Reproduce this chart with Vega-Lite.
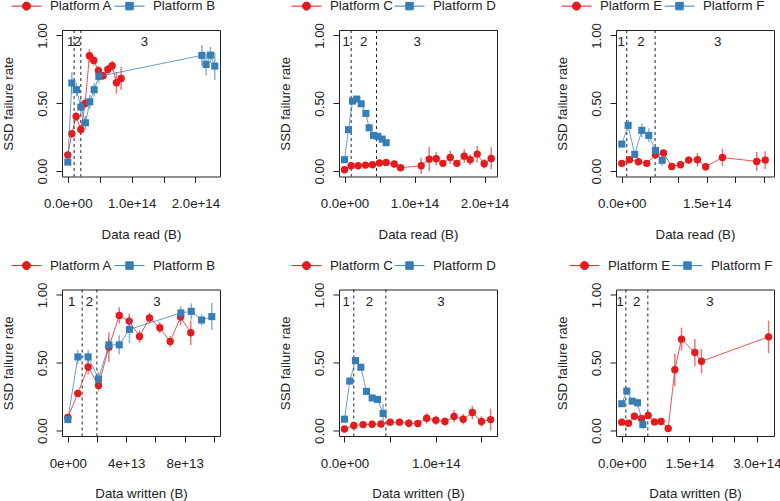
{
"$schema": "https://vega.github.io/schema/vega-lite/v6.json",
"background": "white",
"padding": {"left": 1, "top": -10, "right": 5, "bottom": 5},
"columns": 3,
"spacing": {"row": 112.5, "column": 119},
"bounds": "flush",
"resolve": {"scale": {"color": "independent", "stroke": "independent", "shape": "independent", "x": "independent", "y": "independent"}, "legend": {"color": "independent", "stroke": "independent", "shape": "independent"}},
"config": {
  "font": "Liberation Sans",
  "view": {"stroke": "#222", "strokeWidth": 1},
  "axis": {"grid": false, "domain": false, "tickColor": "#222", "tickSize": 6, "labelFontSize": 13.3, "titleFontSize": 13.3, "labelColor": "#222", "titleColor": "#222", "titleFontWeight": "normal", "labelFont": "Liberation Sans", "titleFont": "Liberation Sans", "labelOverlap": false, "labelFlush": false, "labelBound": false},
  "axisX": {"labelPadding": 14, "titlePadding": 17.5},
  "axisY": {"labelAngle": -90, "labelAlign": "center", "labelBaseline": "bottom", "labelPadding": 7, "titlePadding": 19.5},
  "legend": {"orient": "none", "legendY": -39.5, "direction": "horizontal", "title": null, "symbolSize": 900, "symbolOpacity": 1, "symbolStrokeWidth": 1, "labelFontSize": 13.3, "labelFont": "Liberation Sans", "labelColor": "#222", "labelOffset": 8, "columnPadding": -1, "padding": 0}
},
"datasets": {
"cuts": [
{"p":1,"x":0.099e14},{"p":1,"x":0.204e14},
{"p":2,"x":0.095e14},{"p":2,"x":0.457e14},
{"p":3,"x":0.088e14},{"p":3,"x":0.588e14},
{"p":4,"x":0.98e13},{"p":4,"x":1.99e13},
{"p":5,"x":0.102e14},{"p":5,"x":0.453e14},
{"p":6,"x":0.089e14},{"p":6,"x":0.578e14}
],
"labs": [
{"p":1,"x":0.045e14,"t":"1"},{"p":1,"x":0.146e14,"t":"2"},{"p":1,"x":1.2e14,"t":"3"},
{"p":2,"x":0.024e14,"t":"1"},{"p":2,"x":0.276e14,"t":"2"},{"p":2,"x":1.04e14,"t":"3"},
{"p":3,"x":-0.01e14,"t":"1"},{"p":3,"x":0.34e14,"t":"2"},{"p":3,"x":1.69e14,"t":"3"},
{"p":4,"x":0.27e13,"t":"1"},{"p":4,"x":1.48e13,"t":"2"},{"p":4,"x":6.1e13,"t":"3"},
{"p":5,"x":0.018e14,"t":"1"},{"p":5,"x":0.274e14,"t":"2"},{"p":5,"x":1.055e14,"t":"3"},
{"p":6,"x":-0.037e14,"t":"1"},{"p":6,"x":0.333e14,"t":"2"},{"p":6,"x":1.956e14,"t":"3"}
],
"pts": [
{"p":1,"k":0,"g":"Platform A","x":0,"y":0.118,"e":0.012},
{"p":1,"k":0,"g":"Platform A","x":0.063e14,"y":0.275,"e":0.025},
{"p":1,"k":0,"g":"Platform A","x":0.13e14,"y":0.403,"e":0.035},
{"p":1,"k":0,"g":"Platform A","x":0.204e14,"y":0.307,"e":0.035},
{"p":1,"k":0,"g":"Platform A","x":0.272e14,"y":0.499,"e":0.035},
{"p":1,"k":0,"g":"Platform A","x":0.339e14,"y":0.850,"e":0.05},
{"p":1,"k":0,"g":"Platform A","x":0.407e14,"y":0.816,"e":0.037},
{"p":1,"k":0,"g":"Platform A","x":0.48e14,"y":0.740,"e":0.035},
{"p":1,"k":0,"g":"Platform A","x":0.553e14,"y":0.703,"e":0.03},
{"p":1,"k":0,"g":"Platform A","x":0.627e14,"y":0.749,"e":0.035},
{"p":1,"k":0,"g":"Platform A","x":0.695e14,"y":0.776,"e":0.037},
{"p":1,"k":0,"g":"Platform A","x":0.762e14,"y":0.651,"e":0.08},
{"p":1,"k":0,"g":"Platform A","x":0.836e14,"y":0.683,"e":0.085},
{"p":1,"k":1,"g":"Platform B","x":0,"y":0.066,"e":0.012},
{"p":1,"k":1,"g":"Platform B","x":0.063e14,"y":0.649,"e":0.08},
{"p":1,"k":1,"g":"Platform B","x":0.136e14,"y":0.600,"e":0.05},
{"p":1,"k":1,"g":"Platform B","x":0.204e14,"y":0.472,"e":0.06},
{"p":1,"k":1,"g":"Platform B","x":0.277e14,"y":0.356,"e":0.05},
{"p":1,"k":1,"g":"Platform B","x":0.345e14,"y":0.511,"e":0.05},
{"p":1,"k":1,"g":"Platform B","x":0.413e14,"y":0.600,"e":0.05},
{"p":1,"k":1,"g":"Platform B","x":0.486e14,"y":0.698,"e":0.05},
{"p":1,"k":1,"g":"Platform B","x":2.10e14,"y":0.853,"e":0.075},
{"p":1,"k":1,"g":"Platform B","x":2.167e14,"y":0.786,"e":0.08},
{"p":1,"k":1,"g":"Platform B","x":2.235e14,"y":0.855,"e":0.06},
{"p":1,"k":1,"g":"Platform B","x":2.303e14,"y":0.774,"e":0.1},
{"p":2,"k":0,"g":"Platform C","x":0,"y":0.010,"e":0.008},
{"p":2,"k":0,"g":"Platform C","x":0.095e14,"y":0.039,"e":0.01},
{"p":2,"k":0,"g":"Platform C","x":0.195e14,"y":0.039,"e":0.01},
{"p":2,"k":0,"g":"Platform C","x":0.30e14,"y":0.044,"e":0.01},
{"p":2,"k":0,"g":"Platform C","x":0.40e14,"y":0.047,"e":0.01},
{"p":2,"k":0,"g":"Platform C","x":0.50e14,"y":0.059,"e":0.012},
{"p":2,"k":0,"g":"Platform C","x":0.595e14,"y":0.064,"e":0.012},
{"p":2,"k":0,"g":"Platform C","x":0.71e14,"y":0.052,"e":0.01},
{"p":2,"k":0,"g":"Platform C","x":0.80e14,"y":0.025,"e":0.01},
{"p":2,"k":0,"g":"Platform C","x":1.095e14,"y":0.039,"e":0.06},
{"p":2,"k":0,"g":"Platform C","x":1.21e14,"y":0.088,"e":0.09},
{"p":2,"k":0,"g":"Platform C","x":1.31e14,"y":0.091,"e":0.05},
{"p":2,"k":0,"g":"Platform C","x":1.405e14,"y":0.057,"e":0.025},
{"p":2,"k":0,"g":"Platform C","x":1.51e14,"y":0.10,"e":0.05},
{"p":2,"k":0,"g":"Platform C","x":1.605e14,"y":0.057,"e":0.025},
{"p":2,"k":0,"g":"Platform C","x":1.71e14,"y":0.11,"e":0.05},
{"p":2,"k":0,"g":"Platform C","x":1.795e14,"y":0.084,"e":0.04},
{"p":2,"k":0,"g":"Platform C","x":1.895e14,"y":0.125,"e":0.06},
{"p":2,"k":0,"g":"Platform C","x":1.995e14,"y":0.054,"e":0.035},
{"p":2,"k":0,"g":"Platform C","x":2.095e14,"y":0.093,"e":0.08},
{"p":2,"k":1,"g":"Platform D","x":0,"y":0.084,"e":0.015},
{"p":2,"k":1,"g":"Platform D","x":0.057e14,"y":0.305,"e":0.02},
{"p":2,"k":1,"g":"Platform D","x":0.114e14,"y":0.516,"e":0.02},
{"p":2,"k":1,"g":"Platform D","x":0.176e14,"y":0.531,"e":0.02},
{"p":2,"k":1,"g":"Platform D","x":0.238e14,"y":0.496,"e":0.02},
{"p":2,"k":1,"g":"Platform D","x":0.305e14,"y":0.425,"e":0.025},
{"p":2,"k":1,"g":"Platform D","x":0.352e14,"y":0.319,"e":0.025},
{"p":2,"k":1,"g":"Platform D","x":0.414e14,"y":0.263,"e":0.02},
{"p":2,"k":1,"g":"Platform D","x":0.476e14,"y":0.256,"e":0.02},
{"p":2,"k":1,"g":"Platform D","x":0.538e14,"y":0.236,"e":0.02},
{"p":2,"k":1,"g":"Platform D","x":0.595e14,"y":0.209,"e":0.02},
{"p":3,"k":0,"g":"Platform E","x":0,"y":0.057,"e":0.012},
{"p":3,"k":0,"g":"Platform E","x":0.135e14,"y":0.084,"e":0.015},
{"p":3,"k":0,"g":"Platform E","x":0.294e14,"y":0.069,"e":0.012},
{"p":3,"k":0,"g":"Platform E","x":0.44e14,"y":0.057,"e":0.012},
{"p":3,"k":0,"g":"Platform E","x":0.594e14,"y":0.12,"e":0.02},
{"p":3,"k":0,"g":"Platform E","x":0.735e14,"y":0.133,"e":0.02},
{"p":3,"k":0,"g":"Platform E","x":0.882e14,"y":0.034,"e":0.012},
{"p":3,"k":0,"g":"Platform E","x":1.035e14,"y":0.047,"e":0.012},
{"p":3,"k":0,"g":"Platform E","x":1.18e14,"y":0.081,"e":0.03},
{"p":3,"k":0,"g":"Platform E","x":1.335e14,"y":0.084,"e":0.05},
{"p":3,"k":0,"g":"Platform E","x":1.48e14,"y":0.032,"e":0.03},
{"p":3,"k":0,"g":"Platform E","x":1.776e14,"y":0.10,"e":0.065},
{"p":3,"k":0,"g":"Platform E","x":2.38e14,"y":0.071,"e":0.07},
{"p":3,"k":0,"g":"Platform E","x":2.53e14,"y":0.081,"e":0.065},
{"p":3,"k":1,"g":"Platform F","x":0,"y":0.199,"e":0.02},
{"p":3,"k":1,"g":"Platform F","x":0.112e14,"y":0.337,"e":0.04},
{"p":3,"k":1,"g":"Platform F","x":0.229e14,"y":0.123,"e":0.025},
{"p":3,"k":1,"g":"Platform F","x":0.353e14,"y":0.30,"e":0.05},
{"p":3,"k":1,"g":"Platform F","x":0.476e14,"y":0.263,"e":0.05},
{"p":3,"k":1,"g":"Platform F","x":0.594e14,"y":0.152,"e":0.03},
{"p":3,"k":1,"g":"Platform F","x":0.712e14,"y":0.079,"e":0.04},
{"p":4,"k":0,"g":"Platform A","x":0,"y":0.096,"e":0.012},
{"p":4,"k":0,"g":"Platform A","x":0.685e13,"y":0.274,"e":0.015},
{"p":4,"k":0,"g":"Platform A","x":1.39e13,"y":0.469,"e":0.055},
{"p":4,"k":0,"g":"Platform A","x":2.10e13,"y":0.333,"e":0.04},
{"p":4,"k":0,"g":"Platform A","x":2.81e13,"y":0.615,"e":0.11},
{"p":4,"k":0,"g":"Platform A","x":3.52e13,"y":0.849,"e":0.06},
{"p":4,"k":0,"g":"Platform A","x":4.20e13,"y":0.807,"e":0.055},
{"p":4,"k":0,"g":"Platform A","x":4.91e13,"y":0.694,"e":0.045},
{"p":4,"k":0,"g":"Platform A","x":5.59e13,"y":0.83,"e":0.04},
{"p":4,"k":0,"g":"Platform A","x":6.30e13,"y":0.758,"e":0.04},
{"p":4,"k":0,"g":"Platform A","x":7.01e13,"y":0.657,"e":0.04},
{"p":4,"k":0,"g":"Platform A","x":7.72e13,"y":0.837,"e":0.06},
{"p":4,"k":0,"g":"Platform A","x":8.42e13,"y":0.721,"e":0.09},
{"p":4,"k":1,"g":"Platform B","x":0,"y":0.081,"e":0.012},
{"p":4,"k":1,"g":"Platform B","x":0.685e13,"y":0.543,"e":0.05},
{"p":4,"k":1,"g":"Platform B","x":1.39e13,"y":0.543,"e":0.05},
{"p":4,"k":1,"g":"Platform B","x":2.10e13,"y":0.380,"e":0.05},
{"p":4,"k":1,"g":"Platform B","x":2.81e13,"y":0.632,"e":0.05},
{"p":4,"k":1,"g":"Platform B","x":3.52e13,"y":0.632,"e":0.07},
{"p":4,"k":1,"g":"Platform B","x":4.22e13,"y":0.746,"e":0.1},
{"p":4,"k":1,"g":"Platform B","x":7.74e13,"y":0.867,"e":0.05},
{"p":4,"k":1,"g":"Platform B","x":8.45e13,"y":0.879,"e":0.06},
{"p":4,"k":1,"g":"Platform B","x":9.16e13,"y":0.815,"e":0.04},
{"p":4,"k":1,"g":"Platform B","x":9.86e13,"y":0.84,"e":0.1},
{"p":5,"k":0,"g":"Platform C","x":0,"y":0.012,"e":0.008},
{"p":5,"k":0,"g":"Platform C","x":0.102e14,"y":0.037,"e":0.01},
{"p":5,"k":0,"g":"Platform C","x":0.204e14,"y":0.044,"e":0.01},
{"p":5,"k":0,"g":"Platform C","x":0.303e14,"y":0.047,"e":0.01},
{"p":5,"k":0,"g":"Platform C","x":0.40e14,"y":0.049,"e":0.01},
{"p":5,"k":0,"g":"Platform C","x":0.50e14,"y":0.062,"e":0.012},
{"p":5,"k":0,"g":"Platform C","x":0.602e14,"y":0.062,"e":0.015},
{"p":5,"k":0,"g":"Platform C","x":0.704e14,"y":0.054,"e":0.03},
{"p":5,"k":0,"g":"Platform C","x":0.803e14,"y":0.052,"e":0.025},
{"p":5,"k":0,"g":"Platform C","x":0.90e14,"y":0.091,"e":0.04},
{"p":5,"k":0,"g":"Platform C","x":1.0e14,"y":0.077,"e":0.035},
{"p":5,"k":0,"g":"Platform C","x":1.10e14,"y":0.067,"e":0.03},
{"p":5,"k":0,"g":"Platform C","x":1.20e14,"y":0.104,"e":0.045},
{"p":5,"k":0,"g":"Platform C","x":1.30e14,"y":0.084,"e":0.04},
{"p":5,"k":0,"g":"Platform C","x":1.40e14,"y":0.133,"e":0.05},
{"p":5,"k":0,"g":"Platform C","x":1.50e14,"y":0.067,"e":0.04},
{"p":5,"k":0,"g":"Platform C","x":1.60e14,"y":0.081,"e":0.08},
{"p":5,"k":1,"g":"Platform D","x":0,"y":0.084,"e":0.015},
{"p":5,"k":1,"g":"Platform D","x":0.058e14,"y":0.365,"e":0.02},
{"p":5,"k":1,"g":"Platform D","x":0.12e14,"y":0.516,"e":0.02},
{"p":5,"k":1,"g":"Platform D","x":0.179e14,"y":0.467,"e":0.02},
{"p":5,"k":1,"g":"Platform D","x":0.241e14,"y":0.289,"e":0.02},
{"p":5,"k":1,"g":"Platform D","x":0.303e14,"y":0.24,"e":0.02},
{"p":5,"k":1,"g":"Platform D","x":0.361e14,"y":0.23,"e":0.02},
{"p":5,"k":1,"g":"Platform D","x":0.423e14,"y":0.126,"e":0.07},
{"p":6,"k":0,"g":"Platform E","x":0,"y":0.062,"e":0.015},
{"p":6,"k":0,"g":"Platform E","x":0.148e14,"y":0.054,"e":0.015},
{"p":6,"k":0,"g":"Platform E","x":0.28e14,"y":0.106,"e":0.015},
{"p":6,"k":0,"g":"Platform E","x":0.437e14,"y":0.089,"e":0.015},
{"p":6,"k":0,"g":"Platform E","x":0.585e14,"y":0.111,"e":0.02},
{"p":6,"k":0,"g":"Platform E","x":0.726e14,"y":0.064,"e":0.015},
{"p":6,"k":0,"g":"Platform E","x":0.874e14,"y":0.067,"e":0.015},
{"p":6,"k":0,"g":"Platform E","x":1.03e14,"y":0.015,"e":0.01},
{"p":6,"k":0,"g":"Platform E","x":1.178e14,"y":0.449,"e":0.12},
{"p":6,"k":0,"g":"Platform E","x":1.326e14,"y":0.674,"e":0.085},
{"p":6,"k":0,"g":"Platform E","x":1.622e14,"y":0.575,"e":0.1},
{"p":6,"k":0,"g":"Platform E","x":1.77e14,"y":0.511,"e":0.09},
{"p":6,"k":0,"g":"Platform E","x":3.26e14,"y":0.691,"e":0.12},
{"p":6,"k":1,"g":"Platform F","x":0,"y":0.198,"e":0.02},
{"p":6,"k":1,"g":"Platform F","x":0.111e14,"y":0.291,"e":0.02},
{"p":6,"k":1,"g":"Platform F","x":0.23e14,"y":0.217,"e":0.02},
{"p":6,"k":1,"g":"Platform F","x":0.348e14,"y":0.205,"e":0.03},
{"p":6,"k":1,"g":"Platform F","x":0.467e14,"y":0.044,"e":0.03}
]
},
"concat": [
{"width":158,"height":146.5,
 "encoding":{"x":{"field":"x","type":"quantitative","title":"Data read (B)","scale":{"domain":[-0.091e14,2.385e14],"nice":false,"zero":false},"axis":{"values":[0,0.5e14,1e14,1.5e14,2e14],"labelOverlap":false,"labelExpr":"datum.value==0?'0.0e+00':datum.value==1e14?'1.0e+14':datum.value==2e14?'2.0e+14':''"}}},
 "layer":[
 {"data":{"name":"cuts"},"transform":[{"filter":"datum.p==1"}],"mark":{"type":"rule","strokeDash":[3,3],"color":"#222","strokeWidth":1},"encoding":{}},
 {"data":{"name":"labs"},"transform":[{"filter":"datum.p==1"}],"mark":{"type":"text","fontSize":13.3,"color":"#222","font":"Liberation Sans"},"encoding":{"y":{"datum":0.95,"type":"quantitative"},"text":{"field":"t"}}},
 {"data":{"name":"pts"},"transform":[{"filter":"datum.p==1 && datum.k==0"}],
  "encoding":{"y":{"field":"y","type":"quantitative","title":"SSD failure rate","scale":{"domain":[-0.04,1.04],"nice":false,"zero":false},"axis":{"values":[0,0.25,0.5,0.75,1],"labelOverlap":false,"labelExpr":"datum.value==0?'0.00':datum.value==0.5?'0.50':datum.value==1?'1.00':''"}},
   "color":{"field":"g","type":"nominal","scale":{"domain":["Platform A","Platform B"],"range":["#e41a1c","#377eb8"]},"legend":{"legendX":-51}}},
  "layer":[
   {"mark":{"type":"line","strokeWidth":1,"opacity":0.75}},
   {"mark":{"type":"errorbar","thickness":1.5,"opacity":0.6},"encoding":{"yError":{"field":"e"}}},
   {"mark":{"type":"point","filled":true,"shape":"circle","size":55,"opacity":1}}
  ]},
 {"data":{"name":"pts"},"transform":[{"filter":"datum.p==1 && datum.k==1"}],
  "encoding":{"y":{"field":"y","type":"quantitative","title":"SSD failure rate","scale":{"domain":[-0.04,1.04],"nice":false,"zero":false}},
   "color":{"field":"g","type":"nominal","scale":{"domain":["Platform A","Platform B"],"range":["#e41a1c","#377eb8"]},"legend":{"legendX":-51}}},
  "layer":[
   {"mark":{"type":"line","strokeWidth":1,"opacity":0.75}},
   {"mark":{"type":"errorbar","thickness":1.5,"opacity":0.6},"encoding":{"yError":{"field":"e"}}},
   {"mark":{"type":"point","filled":true,"shape":"square","size":50,"opacity":1}}
  ]},
 {"data":{"name":"pts"},"transform":[{"filter":"datum.p==1"}],"mark":{"type":"point","filled":true,"opacity":0},
  "encoding":{"y":{"field":"y","type":"quantitative","title":"SSD failure rate","scale":{"domain":[-0.04,1.04],"nice":false,"zero":false}},
   "color":{"field":"g","type":"nominal","scale":{"domain":["Platform A","Platform B"],"range":["#e41a1c","#377eb8"]},"legend":{"legendX":-51}},
   "stroke":{"field":"g","type":"nominal","scale":{"domain":["Platform A","Platform B"],"range":["#e41a1c","#377eb8"]},"legend":{"legendX":-51}},
   "shape":{"field":"g","type":"nominal","scale":{"domain":["Platform A","Platform B"],"range":["M-1,0L1,0M0.27,0A0.27,0.27,0,1,1,-0.27,0A0.27,0.27,0,1,1,0.27,0Z","M-1,0L1,0M-0.25,-0.25L0.25,-0.25L0.25,0.25L-0.25,0.25Z"]},"legend":{"legendX":-51}}}}
]},
{"width":158,"height":146.5,
 "encoding":{"x":{"field":"x","type":"quantitative","title":"Data read (B)","scale":{"domain":[-0.0786e14,2.178e14],"nice":false,"zero":false},"axis":{"values":[0,0.5e14,1e14,1.5e14,2e14],"labelOverlap":false,"labelExpr":"datum.value==0?'0.0e+00':datum.value==1e14?'1.0e+14':datum.value==2e14?'2.0e+14':''"}}},
 "layer":[
 {"data":{"name":"cuts"},"transform":[{"filter":"datum.p==2"}],"mark":{"type":"rule","strokeDash":[3,3],"color":"#222","strokeWidth":1},"encoding":{}},
 {"data":{"name":"labs"},"transform":[{"filter":"datum.p==2"}],"mark":{"type":"text","fontSize":13.3,"color":"#222","font":"Liberation Sans"},"encoding":{"y":{"datum":0.95,"type":"quantitative"},"text":{"field":"t"}}},
 {"data":{"name":"pts"},"transform":[{"filter":"datum.p==2 && datum.k==0"}],
  "encoding":{"y":{"field":"y","type":"quantitative","title":"SSD failure rate","scale":{"domain":[-0.04,1.04],"nice":false,"zero":false},"axis":{"values":[0,0.25,0.5,0.75,1],"labelOverlap":false,"labelExpr":"datum.value==0?'0.00':datum.value==0.5?'0.50':datum.value==1?'1.00':''"}},
   "color":{"field":"g","type":"nominal","scale":{"domain":["Platform C","Platform D"],"range":["#e41a1c","#377eb8"]},"legend":{"legendX":-48}}},
  "layer":[
   {"mark":{"type":"line","strokeWidth":1,"opacity":0.75}},
   {"mark":{"type":"errorbar","thickness":1.5,"opacity":0.6},"encoding":{"yError":{"field":"e"}}},
   {"mark":{"type":"point","filled":true,"shape":"circle","size":55,"opacity":1}}
  ]},
 {"data":{"name":"pts"},"transform":[{"filter":"datum.p==2 && datum.k==1"}],
  "encoding":{"y":{"field":"y","type":"quantitative","title":"SSD failure rate","scale":{"domain":[-0.04,1.04],"nice":false,"zero":false}},
   "color":{"field":"g","type":"nominal","scale":{"domain":["Platform C","Platform D"],"range":["#e41a1c","#377eb8"]},"legend":{"legendX":-48}}},
  "layer":[
   {"mark":{"type":"line","strokeWidth":1,"opacity":0.75}},
   {"mark":{"type":"errorbar","thickness":1.5,"opacity":0.6},"encoding":{"yError":{"field":"e"}}},
   {"mark":{"type":"point","filled":true,"shape":"square","size":50,"opacity":1}}
  ]},
 {"data":{"name":"pts"},"transform":[{"filter":"datum.p==2"}],"mark":{"type":"point","filled":true,"opacity":0},
  "encoding":{"y":{"field":"y","type":"quantitative","title":"SSD failure rate","scale":{"domain":[-0.04,1.04],"nice":false,"zero":false}},
   "color":{"field":"g","type":"nominal","scale":{"domain":["Platform C","Platform D"],"range":["#e41a1c","#377eb8"]},"legend":{"legendX":-48}},
   "stroke":{"field":"g","type":"nominal","scale":{"domain":["Platform C","Platform D"],"range":["#e41a1c","#377eb8"]},"legend":{"legendX":-48}},
   "shape":{"field":"g","type":"nominal","scale":{"domain":["Platform C","Platform D"],"range":["M-1,0L1,0M0.27,0A0.27,0.27,0,1,1,-0.27,0A0.27,0.27,0,1,1,0.27,0Z","M-1,0L1,0M-0.25,-0.25L0.25,-0.25L0.25,0.25L-0.25,0.25Z"]},"legend":{"legendX":-48}}}}
]},
{"width":158,"height":146.5,
 "encoding":{"x":{"field":"x","type":"quantitative","title":"Data read (B)","scale":{"domain":[-0.102e14,2.685e14],"nice":false,"zero":false},"axis":{"values":[0,0.5e14,1e14,1.5e14,2e14,2.5e14],"labelOverlap":false,"labelExpr":"datum.value==0?'0.0e+00':datum.value==1.5e14?'1.5e+14':''"}}},
 "layer":[
 {"data":{"name":"cuts"},"transform":[{"filter":"datum.p==3"}],"mark":{"type":"rule","strokeDash":[3,3],"color":"#222","strokeWidth":1},"encoding":{}},
 {"data":{"name":"labs"},"transform":[{"filter":"datum.p==3"}],"mark":{"type":"text","fontSize":13.3,"color":"#222","font":"Liberation Sans"},"encoding":{"y":{"datum":0.95,"type":"quantitative"},"text":{"field":"t"}}},
 {"data":{"name":"pts"},"transform":[{"filter":"datum.p==3 && datum.k==0"}],
  "encoding":{"y":{"field":"y","type":"quantitative","title":"SSD failure rate","scale":{"domain":[-0.04,1.04],"nice":false,"zero":false},"axis":{"values":[0,0.25,0.5,0.75,1],"labelOverlap":false,"labelExpr":"datum.value==0?'0.00':datum.value==0.5?'0.50':datum.value==1?'1.00':''"}},
   "color":{"field":"g","type":"nominal","scale":{"domain":["Platform E","Platform F"],"range":["#e41a1c","#377eb8"]},"legend":{"legendX":-55}}},
  "layer":[
   {"mark":{"type":"line","strokeWidth":1,"opacity":0.75}},
   {"mark":{"type":"errorbar","thickness":1.5,"opacity":0.6},"encoding":{"yError":{"field":"e"}}},
   {"mark":{"type":"point","filled":true,"shape":"circle","size":55,"opacity":1}}
  ]},
 {"data":{"name":"pts"},"transform":[{"filter":"datum.p==3 && datum.k==1"}],
  "encoding":{"y":{"field":"y","type":"quantitative","title":"SSD failure rate","scale":{"domain":[-0.04,1.04],"nice":false,"zero":false}},
   "color":{"field":"g","type":"nominal","scale":{"domain":["Platform E","Platform F"],"range":["#e41a1c","#377eb8"]},"legend":{"legendX":-55}}},
  "layer":[
   {"mark":{"type":"line","strokeWidth":1,"opacity":0.75}},
   {"mark":{"type":"errorbar","thickness":1.5,"opacity":0.6},"encoding":{"yError":{"field":"e"}}},
   {"mark":{"type":"point","filled":true,"shape":"square","size":50,"opacity":1}}
  ]},
 {"data":{"name":"pts"},"transform":[{"filter":"datum.p==3"}],"mark":{"type":"point","filled":true,"opacity":0},
  "encoding":{"y":{"field":"y","type":"quantitative","title":"SSD failure rate","scale":{"domain":[-0.04,1.04],"nice":false,"zero":false}},
   "color":{"field":"g","type":"nominal","scale":{"domain":["Platform E","Platform F"],"range":["#e41a1c","#377eb8"]},"legend":{"legendX":-55}},
   "stroke":{"field":"g","type":"nominal","scale":{"domain":["Platform E","Platform F"],"range":["#e41a1c","#377eb8"]},"legend":{"legendX":-55}},
   "shape":{"field":"g","type":"nominal","scale":{"domain":["Platform E","Platform F"],"range":["M-1,0L1,0M0.27,0A0.27,0.27,0,1,1,-0.27,0A0.27,0.27,0,1,1,0.27,0Z","M-1,0L1,0M-0.25,-0.25L0.25,-0.25L0.25,0.25L-0.25,0.25Z"]},"legend":{"legendX":-55}}}}
]},
{"width":158,"height":146.5,
 "encoding":{"x":{"field":"x","type":"quantitative","title":"Data written (B)","scale":{"domain":[-0.4e13,10.42e13],"nice":false,"zero":false},"axis":{"values":[0,2e13,4e13,6e13,8e13,1e14],"labelOverlap":false,"labelExpr":"datum.value==0?'0e+00':datum.value==4e13?'4e+13':datum.value==8e13?'8e+13':''"}}},
 "layer":[
 {"data":{"name":"cuts"},"transform":[{"filter":"datum.p==4"}],"mark":{"type":"rule","strokeDash":[3,3],"color":"#222","strokeWidth":1},"encoding":{}},
 {"data":{"name":"labs"},"transform":[{"filter":"datum.p==4"}],"mark":{"type":"text","fontSize":13.3,"color":"#222","font":"Liberation Sans"},"encoding":{"y":{"datum":0.95,"type":"quantitative"},"text":{"field":"t"}}},
 {"data":{"name":"pts"},"transform":[{"filter":"datum.p==4 && datum.k==0"}],
  "encoding":{"y":{"field":"y","type":"quantitative","title":"SSD failure rate","scale":{"domain":[-0.04,1.04],"nice":false,"zero":false},"axis":{"values":[0,0.25,0.5,0.75,1],"labelOverlap":false,"labelExpr":"datum.value==0?'0.00':datum.value==0.5?'0.50':datum.value==1?'1.00':''"}},
   "color":{"field":"g","type":"nominal","scale":{"domain":["Platform A","Platform B"],"range":["#e41a1c","#377eb8"]},"legend":{"legendX":-51}}},
  "layer":[
   {"mark":{"type":"line","strokeWidth":1,"opacity":0.75}},
   {"mark":{"type":"errorbar","thickness":1.5,"opacity":0.6},"encoding":{"yError":{"field":"e"}}},
   {"mark":{"type":"point","filled":true,"shape":"circle","size":55,"opacity":1}}
  ]},
 {"data":{"name":"pts"},"transform":[{"filter":"datum.p==4 && datum.k==1"}],
  "encoding":{"y":{"field":"y","type":"quantitative","title":"SSD failure rate","scale":{"domain":[-0.04,1.04],"nice":false,"zero":false}},
   "color":{"field":"g","type":"nominal","scale":{"domain":["Platform A","Platform B"],"range":["#e41a1c","#377eb8"]},"legend":{"legendX":-51}}},
  "layer":[
   {"mark":{"type":"line","strokeWidth":1,"opacity":0.75}},
   {"mark":{"type":"errorbar","thickness":1.5,"opacity":0.6},"encoding":{"yError":{"field":"e"}}},
   {"mark":{"type":"point","filled":true,"shape":"square","size":50,"opacity":1}}
  ]},
 {"data":{"name":"pts"},"transform":[{"filter":"datum.p==4"}],"mark":{"type":"point","filled":true,"opacity":0},
  "encoding":{"y":{"field":"y","type":"quantitative","title":"SSD failure rate","scale":{"domain":[-0.04,1.04],"nice":false,"zero":false}},
   "color":{"field":"g","type":"nominal","scale":{"domain":["Platform A","Platform B"],"range":["#e41a1c","#377eb8"]},"legend":{"legendX":-51}},
   "stroke":{"field":"g","type":"nominal","scale":{"domain":["Platform A","Platform B"],"range":["#e41a1c","#377eb8"]},"legend":{"legendX":-51}},
   "shape":{"field":"g","type":"nominal","scale":{"domain":["Platform A","Platform B"],"range":["M-1,0L1,0M0.27,0A0.27,0.27,0,1,1,-0.27,0A0.27,0.27,0,1,1,0.27,0Z","M-1,0L1,0M-0.25,-0.25L0.25,-0.25L0.25,0.25L-0.25,0.25Z"]},"legend":{"legendX":-51}}}}
]},
{"width":158,"height":146.5,
 "encoding":{"x":{"field":"x","type":"quantitative","title":"Data written (B)","scale":{"domain":[-0.06e14,1.67e14],"nice":false,"zero":false},"axis":{"values":[0,0.5e14,1e14,1.5e14],"labelOverlap":false,"labelExpr":"datum.value==0?'0.0e+00':datum.value==1e14?'1.0e+14':''"}}},
 "layer":[
 {"data":{"name":"cuts"},"transform":[{"filter":"datum.p==5"}],"mark":{"type":"rule","strokeDash":[3,3],"color":"#222","strokeWidth":1},"encoding":{}},
 {"data":{"name":"labs"},"transform":[{"filter":"datum.p==5"}],"mark":{"type":"text","fontSize":13.3,"color":"#222","font":"Liberation Sans"},"encoding":{"y":{"datum":0.95,"type":"quantitative"},"text":{"field":"t"}}},
 {"data":{"name":"pts"},"transform":[{"filter":"datum.p==5 && datum.k==0"}],
  "encoding":{"y":{"field":"y","type":"quantitative","title":"SSD failure rate","scale":{"domain":[-0.04,1.04],"nice":false,"zero":false},"axis":{"values":[0,0.25,0.5,0.75,1],"labelOverlap":false,"labelExpr":"datum.value==0?'0.00':datum.value==0.5?'0.50':datum.value==1?'1.00':''"}},
   "color":{"field":"g","type":"nominal","scale":{"domain":["Platform C","Platform D"],"range":["#e41a1c","#377eb8"]},"legend":{"legendX":-48}}},
  "layer":[
   {"mark":{"type":"line","strokeWidth":1,"opacity":0.75}},
   {"mark":{"type":"errorbar","thickness":1.5,"opacity":0.6},"encoding":{"yError":{"field":"e"}}},
   {"mark":{"type":"point","filled":true,"shape":"circle","size":55,"opacity":1}}
  ]},
 {"data":{"name":"pts"},"transform":[{"filter":"datum.p==5 && datum.k==1"}],
  "encoding":{"y":{"field":"y","type":"quantitative","title":"SSD failure rate","scale":{"domain":[-0.04,1.04],"nice":false,"zero":false}},
   "color":{"field":"g","type":"nominal","scale":{"domain":["Platform C","Platform D"],"range":["#e41a1c","#377eb8"]},"legend":{"legendX":-48}}},
  "layer":[
   {"mark":{"type":"line","strokeWidth":1,"opacity":0.75}},
   {"mark":{"type":"errorbar","thickness":1.5,"opacity":0.6},"encoding":{"yError":{"field":"e"}}},
   {"mark":{"type":"point","filled":true,"shape":"square","size":50,"opacity":1}}
  ]},
 {"data":{"name":"pts"},"transform":[{"filter":"datum.p==5"}],"mark":{"type":"point","filled":true,"opacity":0},
  "encoding":{"y":{"field":"y","type":"quantitative","title":"SSD failure rate","scale":{"domain":[-0.04,1.04],"nice":false,"zero":false}},
   "color":{"field":"g","type":"nominal","scale":{"domain":["Platform C","Platform D"],"range":["#e41a1c","#377eb8"]},"legend":{"legendX":-48}},
   "stroke":{"field":"g","type":"nominal","scale":{"domain":["Platform C","Platform D"],"range":["#e41a1c","#377eb8"]},"legend":{"legendX":-48}},
   "shape":{"field":"g","type":"nominal","scale":{"domain":["Platform C","Platform D"],"range":["M-1,0L1,0M0.27,0A0.27,0.27,0,1,1,-0.27,0A0.27,0.27,0,1,1,0.27,0Z","M-1,0L1,0M-0.25,-0.25L0.25,-0.25L0.25,0.25L-0.25,0.25Z"]},"legend":{"legendX":-48}}}}
]},
{"width":158,"height":146.5,
 "encoding":{"x":{"field":"x","type":"quantitative","title":"Data written (B)","scale":{"domain":[-0.129e14,3.38e14],"nice":false,"zero":false},"axis":{"values":[0,0.5e14,1e14,1.5e14,2e14,2.5e14,3e14],"labelOverlap":false,"labelExpr":"datum.value==0?'0.0e+00':datum.value==1.5e14?'1.5e+14':datum.value==3e14?'3.0e+14':''"}}},
 "layer":[
 {"data":{"name":"cuts"},"transform":[{"filter":"datum.p==6"}],"mark":{"type":"rule","strokeDash":[3,3],"color":"#222","strokeWidth":1},"encoding":{}},
 {"data":{"name":"labs"},"transform":[{"filter":"datum.p==6"}],"mark":{"type":"text","fontSize":13.3,"color":"#222","font":"Liberation Sans"},"encoding":{"y":{"datum":0.95,"type":"quantitative"},"text":{"field":"t"}}},
 {"data":{"name":"pts"},"transform":[{"filter":"datum.p==6 && datum.k==0"}],
  "encoding":{"y":{"field":"y","type":"quantitative","title":"SSD failure rate","scale":{"domain":[-0.04,1.04],"nice":false,"zero":false},"axis":{"values":[0,0.25,0.5,0.75,1],"labelOverlap":false,"labelExpr":"datum.value==0?'0.00':datum.value==0.5?'0.50':datum.value==1?'1.00':''"}},
   "color":{"field":"g","type":"nominal","scale":{"domain":["Platform E","Platform F"],"range":["#e41a1c","#377eb8"]},"legend":{"legendX":-47}}},
  "layer":[
   {"mark":{"type":"line","strokeWidth":1,"opacity":0.75}},
   {"mark":{"type":"errorbar","thickness":1.5,"opacity":0.6},"encoding":{"yError":{"field":"e"}}},
   {"mark":{"type":"point","filled":true,"shape":"circle","size":55,"opacity":1}}
  ]},
 {"data":{"name":"pts"},"transform":[{"filter":"datum.p==6 && datum.k==1"}],
  "encoding":{"y":{"field":"y","type":"quantitative","title":"SSD failure rate","scale":{"domain":[-0.04,1.04],"nice":false,"zero":false}},
   "color":{"field":"g","type":"nominal","scale":{"domain":["Platform E","Platform F"],"range":["#e41a1c","#377eb8"]},"legend":{"legendX":-47}}},
  "layer":[
   {"mark":{"type":"line","strokeWidth":1,"opacity":0.75}},
   {"mark":{"type":"errorbar","thickness":1.5,"opacity":0.6},"encoding":{"yError":{"field":"e"}}},
   {"mark":{"type":"point","filled":true,"shape":"square","size":50,"opacity":1}}
  ]},
 {"data":{"name":"pts"},"transform":[{"filter":"datum.p==6"}],"mark":{"type":"point","filled":true,"opacity":0},
  "encoding":{"y":{"field":"y","type":"quantitative","title":"SSD failure rate","scale":{"domain":[-0.04,1.04],"nice":false,"zero":false}},
   "color":{"field":"g","type":"nominal","scale":{"domain":["Platform E","Platform F"],"range":["#e41a1c","#377eb8"]},"legend":{"legendX":-47}},
   "stroke":{"field":"g","type":"nominal","scale":{"domain":["Platform E","Platform F"],"range":["#e41a1c","#377eb8"]},"legend":{"legendX":-47}},
   "shape":{"field":"g","type":"nominal","scale":{"domain":["Platform E","Platform F"],"range":["M-1,0L1,0M0.27,0A0.27,0.27,0,1,1,-0.27,0A0.27,0.27,0,1,1,0.27,0Z","M-1,0L1,0M-0.25,-0.25L0.25,-0.25L0.25,0.25L-0.25,0.25Z"]},"legend":{"legendX":-47}}}}
]}
]
}
